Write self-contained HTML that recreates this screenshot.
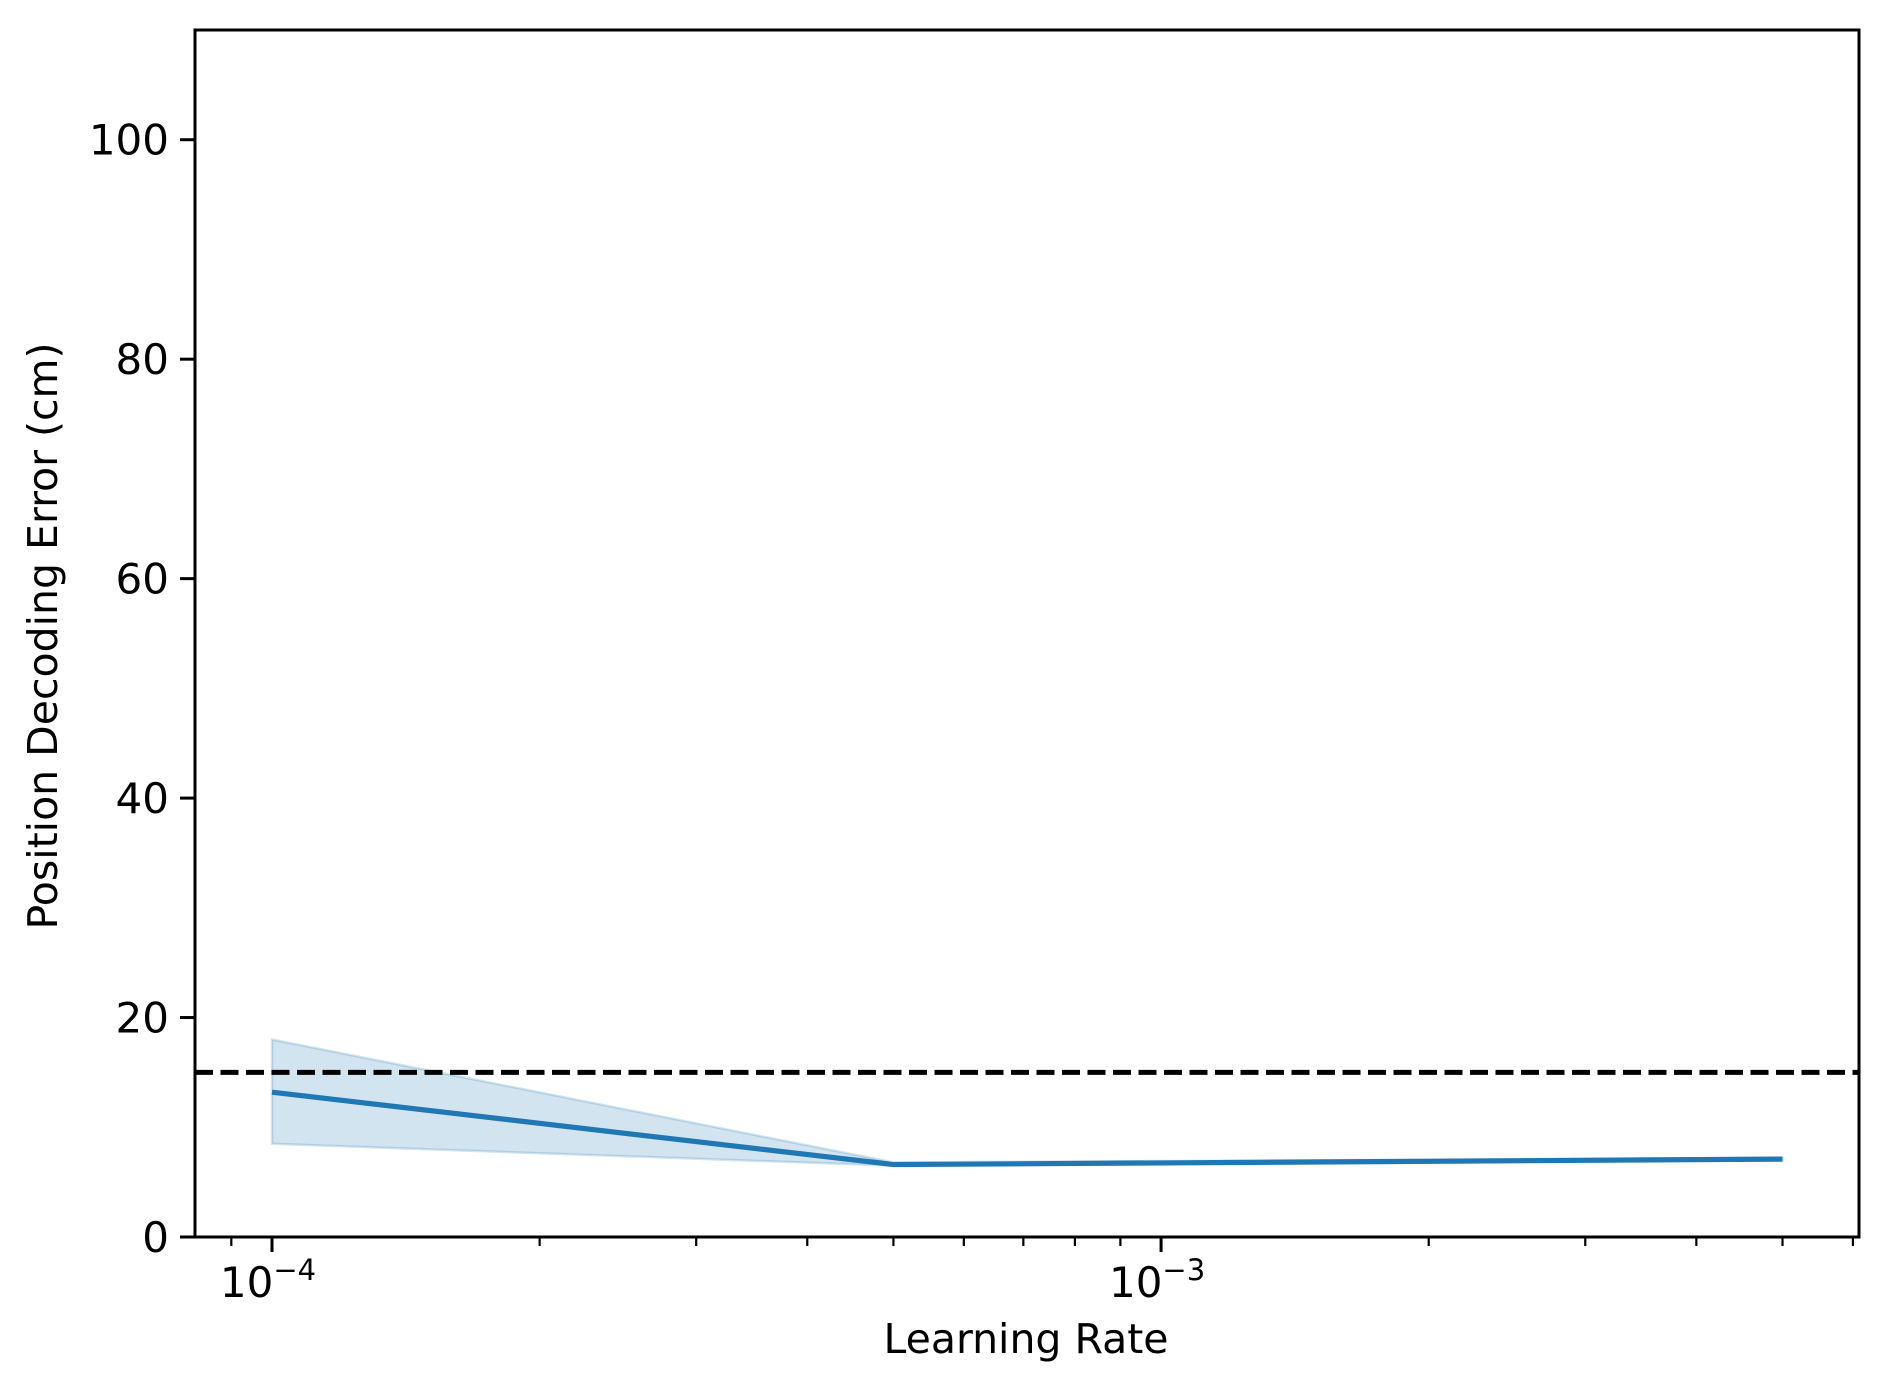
<!DOCTYPE html>
<html><head><meta charset="utf-8"><style>
html,body{margin:0;padding:0;background:#fff;}
svg{display:block;font-family:"DejaVu Sans","Liberation Sans",sans-serif;}
</style></head><body>
<svg id="chart" width="1887" height="1393" viewBox="0 0 1887 1393" xmlns="http://www.w3.org/2000/svg">
<rect width="1887" height="1393" fill="#fff"/>
<g id="plot"></g>
<text x="1026" y="1353" font-size="41" text-anchor="middle">Learning Rate</text>
<text transform="translate(57,636) rotate(-90)" font-size="41" text-anchor="middle">Position Decoding Error (cm)</text>
</svg>
<script>
const learningRates = [1e-4, 5e-4, 5e-3];
const meanError = [13.2, 6.6, 7.1];
const lowerError = [8.5, 6.5, 7.0];
const upperError = [18.0, 6.8, 7.2];
const chanceLevel = 15;
const yTicks = [0, 20, 40, 60, 80, 100];
const xTickExps = [-4, -3];

const L=195, R=1859, T=30, B=1237;
const xMinLog=-4-0.0866, xMaxLog=-4+1.785;
const yMin=0, yMax=110;
function xs(v){return L+(Math.log10(v)-xMinLog)/(xMaxLog-xMinLog)*(R-L);}
function ys(v){return B-(v-yMin)/(yMax-yMin)*(B-T);}
const NS="http://www.w3.org/2000/svg";
const svg=document.getElementById('chart');
function mk(tag,attrs){const e=document.createElementNS(NS,tag);for(const k in attrs)e.setAttribute(k,attrs[k]);svg.appendChild(e);return e;}

let pts=learningRates.map((x,i)=>xs(x)+','+ys(upperError[i]));
pts=pts.concat(learningRates.map((x,i)=>xs(x)+','+ys(lowerError[i])).reverse());
const band=mk('polygon',{points:pts.join(' '),fill:'#1f77b4','fill-opacity':0.2,stroke:'#1f77b4','stroke-opacity':0.2,'stroke-width':2.5});



const ch=mk('line',{x1:L,x2:R,y1:ys(chanceLevel),y2:ys(chanceLevel),stroke:'#000','stroke-width':5,'stroke-dasharray':'18 7.5'});



const ml=mk('polyline',{points:learningRates.map((x,i)=>xs(x)+','+ys(meanError[i])).join(' '),fill:'none',stroke:'#1f77b4','stroke-width':5.2,'stroke-linejoin':'round'});



const fr=mk('rect',{x:L,y:T,width:R-L,height:B-T,fill:'none',stroke:'#000','stroke-width':3});



yTicks.forEach(v=>{
  const t=mk('line',{x1:L-15,x2:L,y1:ys(v),y2:ys(v),stroke:'#000','stroke-width':3});
  
  
  const lb=mk('text',{x:L-26,y:ys(v)+15,'font-size':42,'text-anchor':'end'});
  lb.textContent=String(v);
  
  
});
xTickExps.forEach(e=>{
  const x=xs(Math.pow(10,e));
  const t=mk('line',{x1:x,x2:x,y1:B,y2:B+15,stroke:'#000','stroke-width':3});
  
  
  const lb=mk('text',{x:x-4,y:B+60,'font-size':42,'text-anchor':'middle'});
  lb.innerHTML='10<tspan dy="-17" font-size="29">−'+Math.abs(e)+'</tspan>';
  
  
});
for(let e=-5;e<=-2;e++){for(let m=2;m<=9;m++){
  const v=m*Math.pow(10,e);const lv=Math.log10(v);
  if(lv<xMinLog||lv>xMaxLog)continue;
  const x=xs(v);
  const t=mk('line',{x1:x,x2:x,y1:B,y2:B+9,stroke:'#000','stroke-width':2.2});
  
  
}}
</script>
</body></html>
